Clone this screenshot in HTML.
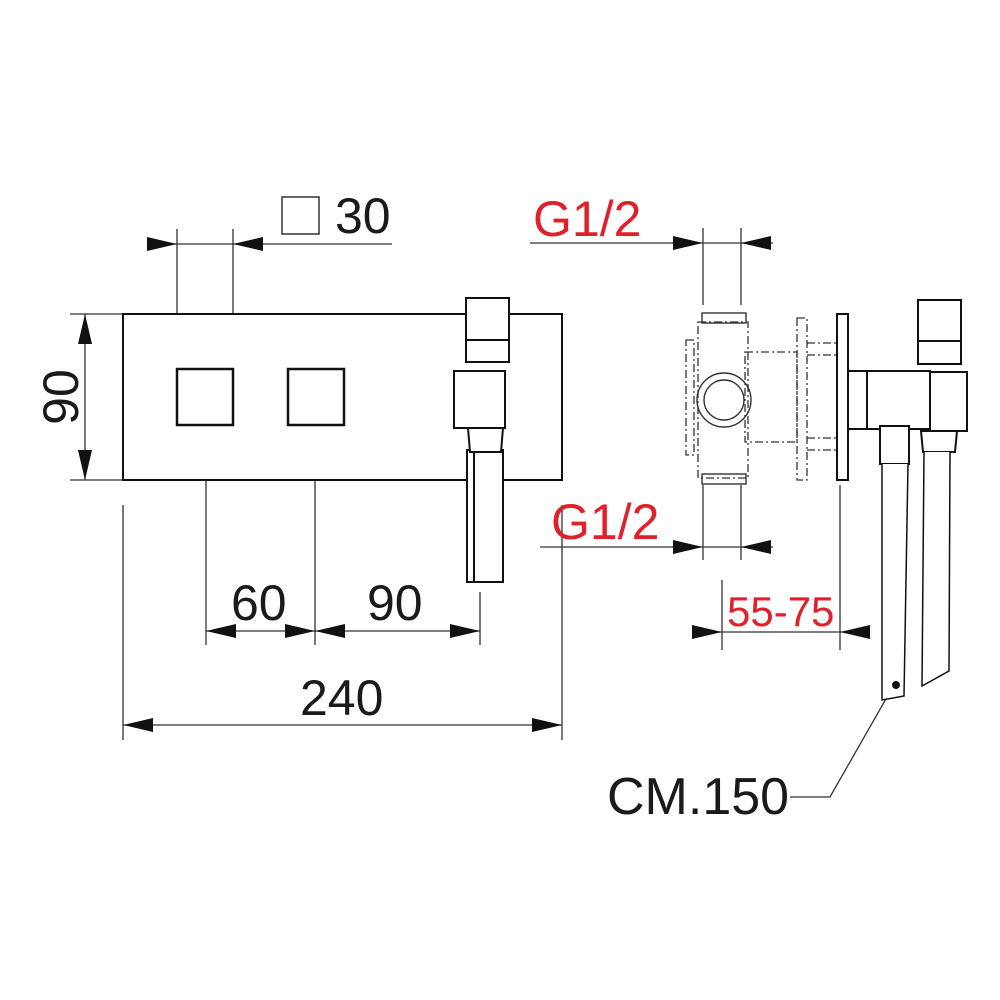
<!DOCTYPE html>
<html><head><style>body{margin:0;background:#fff}svg{display:block}</style></head><body>
<svg width="1000" height="1000" viewBox="0 0 1000 1000" xmlns="http://www.w3.org/2000/svg" font-family="Liberation Sans, sans-serif">
<g stroke="#333" stroke-width="1.3" fill="none">
<line x1="177" y1="229" x2="177" y2="345"/><line x1="233" y1="229" x2="233" y2="345"/>
<line x1="147" y1="244" x2="392" y2="244"/>
<rect x="282" y="197" width="37" height="37" stroke-width="1.5"/>
<line x1="70" y1="314" x2="123" y2="314"/><line x1="70" y1="480" x2="123" y2="480"/>
<line x1="85" y1="314" x2="85" y2="480"/>
<line x1="206" y1="440" x2="206" y2="645"/><line x1="315" y1="440" x2="315" y2="645"/><line x1="480" y1="592" x2="480" y2="645"/>
<line x1="206" y1="631" x2="480" y2="631"/>
<line x1="123" y1="505" x2="123" y2="740"/><line x1="562" y1="505" x2="562" y2="740"/>
<line x1="123" y1="725" x2="562" y2="725"/>
<line x1="530" y1="243" x2="773" y2="243"/>
<line x1="703" y1="228" x2="703" y2="305"/><line x1="741" y1="228" x2="741" y2="305"/>
<line x1="540" y1="547" x2="773" y2="547"/>
<line x1="703" y1="485" x2="703" y2="560"/><line x1="741" y1="485" x2="741" y2="560"/>
<line x1="693" y1="632" x2="870" y2="632"/>
<line x1="722" y1="580" x2="722" y2="650"/><line x1="840" y1="485" x2="840" y2="650"/>
<polyline points="790,797 830,797 895,683"/>
</g>
<g fill="#111">
<path d="M177,244 l-30,-7 v14z"/><path d="M233,244 l30,-7 v14z"/>
<path d="M85,314 l-7,30 h14z"/><path d="M85,480 l-7,-30 h14z"/>
<path d="M206,631 l30,-7 v14z"/><path d="M315,631 l-30,-7 v14z"/><path d="M315,631 l30,-7 v14z"/><path d="M480,631 l-30,-7 v14z"/>
<path d="M123,725 l30,-7 v14z"/><path d="M562,725 l-30,-7 v14z"/>
<path d="M703,243 l-30,-7 v14z"/><path d="M741,243 l30,-7 v14z"/>
<path d="M703,547 l-30,-7 v14z"/><path d="M741,547 l30,-7 v14z"/>
<path d="M722,632 l-30,-7 v14z"/><path d="M840,632 l30,-7 v14z"/>
</g>
<g stroke="#111" stroke-width="2" fill="#fff">
<rect x="123" y="314" width="439" height="166"/>
<rect x="177" y="369" width="56" height="56" stroke-width="2.5"/>
<rect x="288" y="369" width="56" height="56" stroke-width="2.5"/>
<rect x="466" y="298" width="43" height="64"/>
<line x1="466" y1="340" x2="509" y2="340"/>
<rect x="467" y="450" width="36" height="132"/>
<line x1="474" y1="450" x2="474" y2="582"/>
<polygon points="468,428 503,428 501,452 470,452"/>
<rect x="454" y="371" width="51" height="57"/>
</g>
<g stroke="#333" stroke-width="1.3" fill="none" stroke-dasharray="8,3,2,3">
<rect x="698" y="322" width="50" height="156"/>
<rect x="745" y="352" width="52" height="90"/>
<rect x="686" y="340" width="8" height="115"/>
<rect x="797" y="318" width="10" height="162"/>
<line x1="807" y1="343" x2="836" y2="343"/><line x1="807" y1="355" x2="836" y2="355"/>
<line x1="807" y1="438" x2="836" y2="438"/><line x1="807" y1="450" x2="836" y2="450"/>
</g>
<g stroke="#333" stroke-width="1.4" fill="none">
<circle cx="724" cy="400" r="20"/><circle cx="724" cy="400" r="27"/>
<rect x="702" y="313" width="44" height="10"/><rect x="702" y="474" width="44" height="10"/>
</g>
<g stroke="#111" stroke-width="2" fill="#fff">
<rect x="837" y="314" width="11" height="166"/>
<rect x="848" y="371" width="82" height="58"/>
<line x1="867" y1="371" x2="867" y2="429"/>
<rect x="918" y="300" width="43" height="64"/>
<line x1="918" y1="341" x2="961" y2="341"/>
<rect x="930" y="372" width="37" height="59"/>
<rect x="880" y="426" width="29" height="38"/>
<polygon points="921,431 957,431 955,452 923,452"/>
<path d="M882,464 L882,700 L904,696 L908,464" stroke-width="1.5"/>
<path d="M924,452 L922,686 L949,671 L950,452" stroke-width="1.5"/>
</g>
<circle cx="896" cy="685" r="4" fill="#111"/>
<g fill="#1a1a1a" font-size="50">
<text x="335" y="233">30</text>
<text x="231" y="620">60</text>
<text x="367" y="620">90</text>
<text x="300" y="715">240</text>
<text x="607" y="814" font-size="52">CM.150</text>
<text transform="translate(78,397) rotate(-90)" text-anchor="middle">90</text>
</g>
<g fill="#e0202a" font-size="50">
<text x="533" y="236">G1/2</text>
<text x="551" y="539">G1/2</text>
<text x="727" y="626" font-size="42">55-75</text>
</g>
</svg>
</body></html>
